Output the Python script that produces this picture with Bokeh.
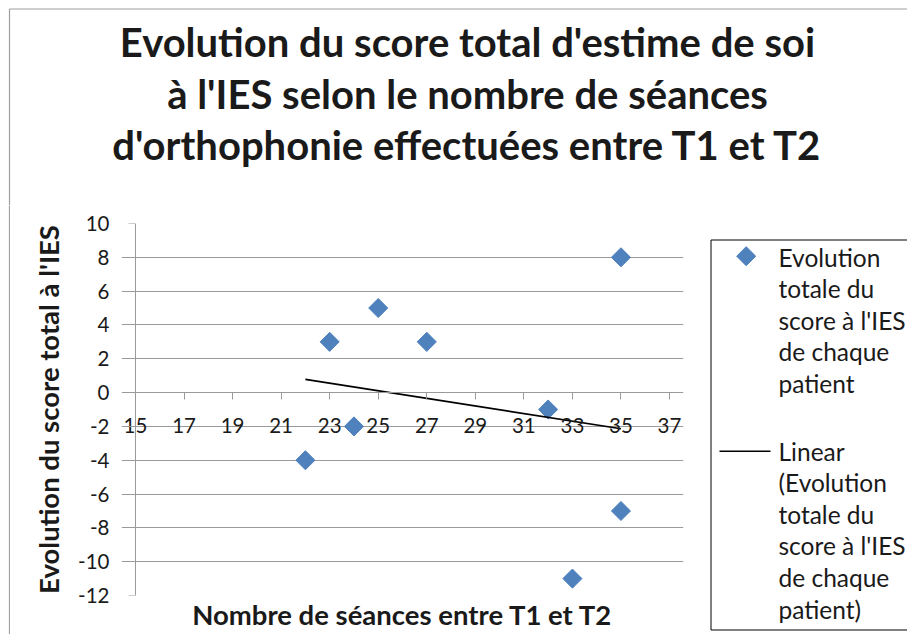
import numpy as np
from bokeh.plotting import figure
from bokeh.layouts import column, row
from bokeh.models import Range1d, FixedTicker, LinearAxis
from bokeh.embed import file_html
from bokeh.resources import INLINE
from bokeh.core.properties import value

# ---------------- data ----------------
sessions = [22, 23, 24, 25, 27, 32, 33, 35, 35]
score_change = [-4, 3, -2, 5, 3, -1, -11, 8, -7]

x_ticks = [15, 17, 19, 21, 23, 25, 27, 29, 31, 33, 35, 37]
y_ticks = [-12, -10, -8, -6, -4, -2, 0, 2, 4, 6, 8, 10]

title_lines = ["Evolution du score total d'estime de soi",
               "à l'IES selon le nombre de séances",
               "d'orthophonie effectuées entre T1 et T2"]
x_label = "Nombre de séances entre T1 et T2"
y_label = "Evolution du score total à l'IES"
legend_scatter_lines = ["Evolution", "totale du", "score à l'IES", "de chaque", "patient"]
legend_trend_lines = ["Linear", "(Evolution", "totale du", "score à l'IES",
                      "de chaque", "patient)"]

# ---------------- styles / layout (page pixels) ----------------
PAGE_W, PAGE_H = 907, 634
TITLE_H = 205
ROW_H = PAGE_H - TITLE_H
STRIP_W = 10
MAIN_W = 692
LEG_W = PAGE_W - STRIP_W - MAIN_W
AX_L, AX_R, FRAME_T, FRAME_B = 135, 669, 223, 595   # plot area in page px
EDGE_PAD = 14                                       # room for edge tick labels

GRID = "#9a9a9a"
BORDER = "#a0a0a0"
TXT = "#1a1a1a"
BLUE = "#4F81BD"
FONT = "Lato"

X0, X1 = x_ticks[0], x_ticks[-1]
Y0, Y1 = y_ticks[0], y_ticks[-1]
pad = EDGE_PAD * (X1 - X0) / (AX_R - AX_L)


def blank_fig(w, h, x0, x1, y_top, y_bottom):
    f = figure(width=w, height=h, output_backend="svg", toolbar_location=None,
               x_range=Range1d(x0, x1), y_range=Range1d(y_bottom, y_top),
               x_axis_location=None, y_axis_location=None,
               min_border=0, min_border_left=0, min_border_right=0,
               min_border_top=0, min_border_bottom=0, frame_align=False)
    f.title = None
    f.grid.visible = False
    f.outline_line_color = None
    return f


# ---------------- title ----------------
tf = blank_fig(PAGE_W, TITLE_H, 0, PAGE_W, 0, TITLE_H)
tf.text(x=[467] * len(title_lines), y=[41.5, 93, 144.5], text=title_lines,
        text_align="center", text_baseline="middle", text_font=value(FONT),
        text_font_style="bold", text_font_size="40px", text_color=TXT)
tf.segment(x0=[9, 9], y0=[8.5, 8.5], x1=[PAGE_W, 9], y1=[8.5, TITLE_H],
           line_color=BORDER, line_width=1.2)

# ---------------- left border strip ----------------
sf = blank_fig(STRIP_W, ROW_H, 0, STRIP_W, TITLE_H, PAGE_H)
sf.segment(x0=[9], y0=[TITLE_H], x1=[9], y1=[PAGE_H], line_color=BORDER, line_width=1.2)

# ---------------- main chart ----------------
p = figure(width=MAIN_W, height=ROW_H, output_backend="svg", toolbar_location=None,
           x_range=Range1d(X0 - pad, X1 + pad), y_range=Range1d(Y0, Y1),
           min_border_left=AX_L - EDGE_PAD - STRIP_W,
           min_border_right=STRIP_W + MAIN_W - AX_R - EDGE_PAD,
           min_border_top=FRAME_T - TITLE_H, min_border_bottom=PAGE_H - FRAME_B,
           frame_align=False)
p.title = None
p.outline_line_color = None

# bottom axis: carries only the axis title
xa = p.xaxis[0]
xa.ticker = FixedTicker(ticks=[])
xa.axis_line_color = None
xa.major_tick_line_color = None
xa.minor_tick_line_color = None
xa.major_tick_out = 0
xa.minor_tick_out = 0
xa.axis_label = x_label
xa.axis_label_text_font = FONT
xa.axis_label_text_font_style = "bold"
xa.axis_label_text_font_size = "27.5px"
xa.axis_label_text_color = TXT
xa.axis_label_standoff = 2

# left axis: tick labels + title (line drawn by the fixed axis below)
ya = p.yaxis[0]
ya.ticker = FixedTicker(ticks=y_ticks)
ya.major_label_overrides = {t: str(t) for t in y_ticks}
ya.axis_line_color = None
ya.major_tick_line_color = None
ya.major_tick_out = 0
ya.major_tick_in = 0
ya.minor_tick_line_color = None
ya.minor_tick_out = 0
ya.major_label_text_font = FONT
ya.major_label_text_font_size = "20.5px"
ya.major_label_text_color = TXT
ya.major_label_standoff = AX_L - EDGE_PAD - 109
ya.axis_label = y_label
ya.axis_label_text_font = FONT
ya.axis_label_text_font_style = "bold"
ya.axis_label_text_font_size = "27.5px"
ya.axis_label_text_color = TXT
ya.axis_label_standoff = 10

# vertical axis line at x = 15 with outward ticks
y_line_axis = LinearAxis(fixed_location=X0, bounds=(Y0, Y1), ticker=FixedTicker(ticks=y_ticks),
                         axis_line_color=GRID, major_tick_line_color=GRID,
                         major_tick_out=7, major_tick_in=0,
                         minor_tick_line_color=None, minor_tick_out=0, minor_tick_in=0,
                         major_label_text_font_size="0px", major_label_text_alpha=0)
p.add_layout(y_line_axis, "left")

# horizontal axis crossing at y = 0 (ticks hang down, labels below)
x0_axis = LinearAxis(fixed_location=0, bounds=(X0, X1), ticker=FixedTicker(ticks=x_ticks),
                     axis_line_color=GRID, major_tick_line_color=GRID,
                     major_tick_in=7, major_tick_out=0,
                     minor_tick_line_color=None, minor_tick_out=0, minor_tick_in=0,
                     major_label_standoff=-40, major_label_text_font=FONT,
                     major_label_text_font_size="20.5px", major_label_text_color=TXT)
p.add_layout(x0_axis, "above")

p.xgrid.visible = False
p.ygrid.ticker = FixedTicker(ticks=y_ticks)
p.ygrid.bounds = (X0, X1)
p.ygrid.grid_line_color = GRID
p.ygrid.grid_line_width = 1

MARKER = dict(marker="square", size=13.5, angle=np.pi / 4, fill_color=BLUE, line_color=BLUE)
p.scatter(sessions, score_change, **MARKER)
slope, intercept = np.polyfit(sessions, score_change, 1)
tx = [min(sessions), max(sessions)]
p.line(tx, [slope * v + intercept for v in tx], line_color="black", line_width=1.6)

# ---------------- legend ----------------
lf = blank_fig(LEG_W, ROW_H, STRIP_W + MAIN_W, PAGE_W, TITLE_H, PAGE_H)
lf.quad(left=[710.5], right=[PAGE_W + 20], top=[239.5], bottom=[629.5],
        fill_color=None, line_color="black", line_width=1)
lf.scatter([745.7], [255.7], **MARKER)
lf.line([719, 770], [450.7, 450.7], line_color="black", line_width=1.6)
PITCH = 31.6
leg_text = legend_scatter_lines + legend_trend_lines
leg_y = [256.5 + PITCH * i for i in range(len(legend_scatter_lines))] + \
        [450.5 + PITCH * i for i in range(len(legend_trend_lines))]
lf.text(x=[778] * len(leg_text), y=leg_y, text=leg_text, text_align="left",
        text_baseline="middle", text_font=value(FONT), text_font_size="24.5px",
        text_color=TXT)

layout = column(tf, row(sf, p, lf))
open("out.html", "w").write(file_html(layout, INLINE))
